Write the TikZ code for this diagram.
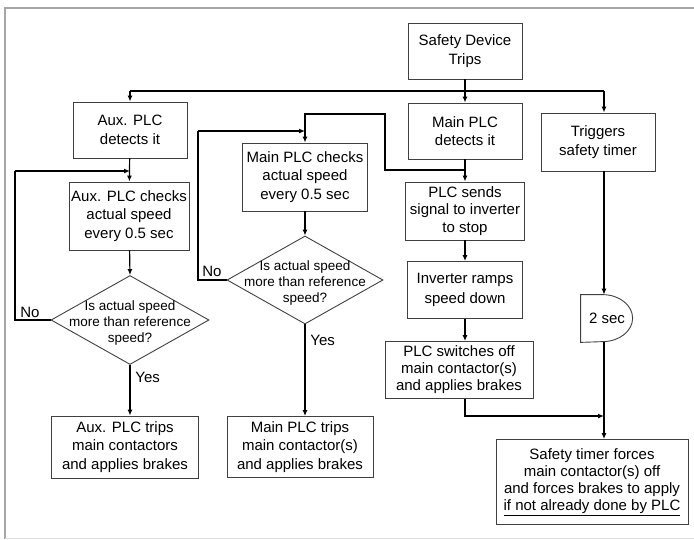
\documentclass[tikz,border=0pt]{standalone}
\usepackage{fontspec}
\setmainfont{Liberation Sans}
\usetikzlibrary{arrows.meta,shapes.geometric,positioning,calc}
\newcommand{\boxfont}{\fontsize{15}{18.5}\selectfont}
\newcommand{\qfont}{\fontsize{13.5}{16}\selectfont}
\tikzset{every picture/.style={line width=0.75pt}}
\tikzset{
  box/.style={draw=black!75, line width=0.9pt, align=center, inner sep=2pt, font=\boxfont},
  decision/.style={draw=black!75, diamond, line width=0.9pt, inner sep=0pt, minimum width=158pt, minimum height=89pt},
  qtext/.style={align=center, font=\qfont, inner sep=0pt},
  arr/.style={-{Latex[length=6pt,width=5pt]}, line width=1.2pt},
  wire/.style={line width=1.2pt},
  lbl/.style={font=\boxfont, inner sep=1pt}
}

\begin{document}
\begin{tikzpicture}[x=1pt, y=-1pt]
    \useasboundingbox (0,0) rectangle (694,539);

    % outer frame
    \draw[gray!70, line width=1.2pt] (694,8) -- (5,8) -- (5,539);
    \draw[gray!25, line width=0.8pt] (5,538) -- (694,538);

    % top of the chart
    \node[box, minimum width=114pt, minimum height=56pt] (trips) at (465,51) {Safety Device\\Trips};
    \coordinate (split) at (465,91);
    \coordinate (tline) at (604,0);

    % three branches
    \node[box, minimum width=114pt, minimum height=56pt] (auxdet) at (130,130) {Aux. PLC\\detects it};
    \node[box, minimum width=114pt, minimum height=56pt] (maindet) at (465,131) {Main PLC\\detects it};
    \node[box, minimum width=114pt, minimum height=58pt] (timer) at (598,142) {Triggers\\safety timer};

    % aux PLC column
    \node[box, minimum width=120pt, minimum height=68pt] (auxchk) at (129,216) {Aux. PLC checks\\actual speed\\every 0.5 sec};
    \node[decision] (auxq) at (130,320) {};
    \node[qtext] (auxqtxt) at (130,323) {Is actual speed\\more than reference\\speed?};
    \node[box, minimum width=147pt, minimum height=62pt] (auxtrip) at (125,447) {Aux. PLC trips\\main contactors\\and applies brakes};

    % main PLC check column
    \node[box, minimum width=125pt, minimum height=68pt] (mainchk) at (305,177) {Main PLC checks\\actual speed\\every 0.5 sec};
    \node[decision, minimum width=156pt, minimum height=88pt] (mainq) at (305,280) {};
    \node[qtext] (mainqtxt) at (305,283) {Is actual speed\\more than reference\\speed?};
    \node[box, minimum width=146pt, minimum height=61pt] (maintrip) at (300,447) {Main PLC trips\\main contactor(s)\\and applies brakes};

    % inverter column
    \node[box, minimum width=119pt, minimum height=58pt, font=\fontsize{15}{17.5}\selectfont] (send) at (465,211) {PLC sends\\signal to inverter\\to stop};
    \node[box, minimum width=115pt, minimum height=57pt, font=\fontsize{15}{20}\selectfont] (ramp) at (465,290) {Inverter ramps\\speed down};
    \node[box, minimum width=148pt, minimum height=57pt, font=\fontsize{15}{17}\selectfont] (switch) at (459,370) {PLC switches off\\main contactor(s)\\and applies brakes};

    % timer column
    \node[inner sep=0pt, minimum width=52pt, minimum height=47pt, font=\boxfont] (delay) at (607,318.5) {2 sec};
    \draw[draw=black!75, line width=0.9pt] (delay.north west) -- ++(22,0)
        arc[start angle=-90, end angle=90, x radius=30, y radius=23.5] -- (delay.south west) -- cycle;
    \node[box, minimum width=192pt, minimum height=85pt, font=\fontsize{15}{17}\selectfont] (force) at (592,482) {Safety timer forces\\main contactor(s) off\\and forces brakes to apply\\\underline{if not already done by PLC}};
    \coordinate (merge) at (604,416);

    % connectors from the top box
    \draw[wire] (trips) -- (split);
    \draw[wire] (split -| auxdet) -- (split -| tline);
    \draw[arr] (split -| auxdet) -- (auxdet.north);
    \draw[arr] (split) -- (maindet.north);
    \draw[arr] (split -| tline) -- (tline |- timer.north);

    % aux loop
    \coordinate (auxno) at (15,171);
    \draw[arr] (auxdet) -- (auxchk);
    \draw[arr] (auxchk) -- (auxq.north);
    \draw[wire] (auxq.west) -| (auxno);
    \draw[arr] (auxno) -- (auxno -| auxq);
    \draw[arr] (auxq.south) -- (auxq.south |- auxtrip.north);
    \node[lbl, anchor=south west] (auxnolbl) at (19,319) {No};
    \node[lbl, anchor=west] (auxyes) at (134,377) {Yes};

    % main loop
    \coordinate (tap) at (465,170);
    \coordinate (bend) at (385,114);
    \coordinate (mainno) at (198,131);
    \draw[arr] (maindet) -- (send);
    \draw[arr] (tap) -| (bend) -| (mainchk.north);
    \draw[arr] (mainchk) -- (mainq.north);
    \draw[wire] (mainq.west) -| (mainno);
    \draw[arr] (mainno) -- (mainno -| mainchk);
    \draw[arr] (mainq.south) -- (mainq.south |- maintrip.north);
    \node[lbl, anchor=south west] (mainnolbl) at (201,278) {No};
    \node[lbl, anchor=west] (mainyes) at (309,340) {Yes};

    % inverter and timer
    \draw[arr] (send) -- (ramp);
    \draw[arr] (ramp.south) -- (ramp.south |- switch.north);
    \draw[arr] (ramp.south |- switch.south) |- (merge);
    \draw[arr] (tline |- timer.south) -- (tline |- delay.north);
    \draw[arr] (tline |- delay.south) -- (tline |- force.north);
\end{tikzpicture}
\end{document}
